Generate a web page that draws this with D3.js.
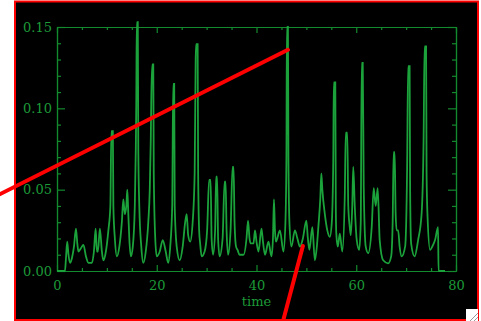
<!DOCTYPE html>
<html>
<head>
<meta charset="utf-8">
<script src="https://cdn.jsdelivr.net/npm/d3@7"></script>
<style>
  body { margin: 0; background: #fff; }
  svg { display: block; }
</style>
</head>
<body>
<svg id="chart" width="481" height="321"></svg>
<script>
// time series
const timeVals = [
  0, 1.6, 1.8, 2.05, 2.3, 2.6, 3.0, 3.4, 3.8, 4.1,
  4.3, 4.8, 5.3, 5.8, 6.3, 7.0, 7.4, 7.75, 8.0, 8.2,
  8.6, 9.0, 9.3, 9.8, 10.3, 10.7, 10.9, 11.2, 11.3, 11.6,
  12.0, 12.5, 13.0, 13.3, 13.6, 13.9, 14.1, 14.3, 14.5, 14.8,
  15.2, 15.6, 15.8, 15.9, 16.0, 16.2, 16.3, 16.5, 16.9, 17.3,
  17.8, 18.3, 18.6, 18.8, 18.9, 19.1, 19.3, 19.4, 19.7, 20.0,
  20.6, 21.2, 21.8, 22.3, 22.7, 23.1, 23.3, 23.5, 23.6, 24.0,
  24.6, 25.2, 25.7, 26.0, 26.3, 26.7, 27.2, 27.6, 27.8, 27.9,
  28.2, 28.3, 28.5, 28.7, 29.0, 29.6, 30.1, 30.5, 30.8, 31.0,
  31.3, 31.7, 31.9, 32.1, 32.3, 32.6, 33.2, 33.6, 33.8, 34.0,
  34.3, 34.8, 35.2, 35.4, 35.6, 35.9, 36.2, 36.6, 37.4, 38.0,
  38.3, 38.6, 38.8, 39.4, 39.7, 40.0, 40.4, 41.0, 41.3, 41.7,
  42.4, 43.0, 43.3, 43.5, 43.7, 43.9, 44.7, 45.4, 45.8, 46.0,
  46.1, 46.3, 46.4, 46.6, 47.0, 47.7, 48.2, 48.7, 49.3, 50.0,
  50.3, 50.6, 51.2, 51.7, 52.1, 52.4, 52.8, 53.0, 53.2, 53.7,
  54.2, 54.7, 55.1, 55.4, 55.5, 55.8, 55.9, 56.0, 56.3, 56.7,
  57.2, 57.7, 57.9, 58.2, 58.4, 58.7, 58.9, 59.2, 59.4, 59.7,
  60.1, 60.6, 60.9, 61.1, 61.3, 61.5, 61.9, 62.4, 63.1, 63.5,
  63.9, 64.3, 64.7, 65.4, 66.4, 67.0, 67.3, 67.5, 67.7, 67.9,
  68.1, 68.4, 68.7, 69.1, 69.8, 70.2, 70.4, 70.7, 70.8, 71.0,
  71.7, 72.4, 73.1, 73.5, 73.7, 74.0, 74.1, 74.3, 74.8, 75.4,
  75.8, 76.4, 76.5, 77.8];
const fluxVals = [
  0, 0, 0.008, 0.018, 0.01, 0.005, 0.008, 0.015, 0.026, 0.016,
  0.012, 0.014, 0.016, 0.009, 0.005, 0.005, 0.012, 0.026, 0.012, 0.012,
  0.026, 0.012, 0.0066, 0.012, 0.025, 0.04, 0.086, 0.086, 0.04, 0.02,
  0.009, 0.015, 0.03, 0.044, 0.035, 0.04, 0.05, 0.035, 0.02, 0.009,
  0.015, 0.04, 0.075, 0.105, 0.153, 0.153, 0.075, 0.04, 0.015, 0.005,
  0.012, 0.03, 0.05, 0.08, 0.105, 0.127, 0.127, 0.06, 0.02, 0.009,
  0.012, 0.019, 0.012, 0.005, 0.015, 0.04, 0.115, 0.115, 0.04, 0.015,
  0.0066, 0.015, 0.03, 0.035, 0.022, 0.018, 0.03, 0.06, 0.129, 0.1395,
  0.1395, 0.06, 0.025, 0.017, 0.009, 0.012, 0.025, 0.056, 0.056, 0.02,
  0.01, 0.025, 0.058, 0.058, 0.02, 0.009, 0.02, 0.055, 0.055, 0.025,
  0.01, 0.025, 0.064, 0.064, 0.03, 0.015, 0.013, 0.01, 0.01, 0.02,
  0.031, 0.02, 0.017, 0.017, 0.025, 0.018, 0.012, 0.026, 0.018, 0.01,
  0.018, 0.009, 0.02, 0.044, 0.025, 0.018, 0.025, 0.012, 0.03, 0.07,
  0.15, 0.15, 0.07, 0.03, 0.015, 0.025, 0.02, 0.015, 0.02, 0.031,
  0.02, 0.013, 0.027, 0.0066, 0.015, 0.027, 0.045, 0.06, 0.05, 0.035,
  0.025, 0.021, 0.03, 0.07, 0.116, 0.116, 0.04, 0.023, 0.015, 0.023,
  0.012, 0.046, 0.085, 0.085, 0.04, 0.027, 0.022, 0.04, 0.064, 0.04,
  0.019, 0.013, 0.03, 0.128, 0.128, 0.052, 0.015, 0.011, 0.027, 0.051,
  0.04, 0.051, 0.019, 0.0066, 0.0047, 0.009, 0.03, 0.073, 0.073, 0.035,
  0.025, 0.025, 0.015, 0.009, 0.015, 0.064, 0.126, 0.126, 0.05, 0.017,
  0.009, 0.019, 0.035, 0.08, 0.138, 0.138, 0.06, 0.033, 0.013, 0.016,
  0.019, 0.027, 0, 0];

const xMajor = [0, 20, 40, 60, 80];
const xMinor = [5, 10, 15, 25, 30, 35, 45, 50, 55, 65, 70, 75];
const yMajor = [0, 0.05, 0.10, 0.15];
const yMinor = [0.01, 0.02, 0.03, 0.04, 0.06, 0.07, 0.08, 0.09, 0.11, 0.12, 0.13, 0.14];
const yLabels = ["0.00", "0.05", "0.10", "0.15"];

// red annotation strokes, in data coordinates
const markA = [[-11.4, 0.0473], [46.3, 0.136]];
const markB = [[49.3, 0.0154], [45.3, -0.031]];

const svg = d3.select('#chart');
const plotLeft = 57, plotRight = 456, plotTop = 27, plotBottom = 271;
const green = '#1d9a38';
const axisGreen = '#138a2e';

// frame
svg.append('rect')
  .attr('x', 15).attr('y', 1.5)
  .attr('width', 463).attr('height', 318.5)
  .attr('fill', '#000')
  .attr('stroke', '#f00')
  .attr('stroke-width', 2);

const x = d3.scaleLinear().domain([0, 80]).range([plotLeft, plotRight]);
const y = d3.scaleLinear().domain([0, 0.15]).range([plotBottom, plotTop]);

function styleAxis(g) {
  g.selectAll('path, line').attr('stroke', axisGreen).attr('stroke-width', 1.2);
  g.selectAll('text')
    .attr('fill', green)
    .style('font-family', '"DejaVu Serif", serif')
    .style('font-size', '13px');
}

// bottom
svg.append('g').attr('transform', `translate(0,${plotBottom})`)
  .call(d3.axisBottom(x).tickValues(xMajor).tickSizeInner(-6).tickSizeOuter(0).tickPadding(10)
    .tickFormat(d3.format('d')))
  .call(styleAxis);
svg.append('g').attr('transform', `translate(0,${plotBottom})`)
  .call(d3.axisBottom(x).tickValues(xMinor).tickSizeInner(-3).tickSizeOuter(0).tickFormat(''))
  .call(styleAxis);
// top
svg.append('g').attr('transform', `translate(0,${plotTop})`)
  .call(d3.axisTop(x).tickValues(xMajor).tickSizeInner(-6).tickSizeOuter(0).tickFormat(''))
  .call(styleAxis);
svg.append('g').attr('transform', `translate(0,${plotTop})`)
  .call(d3.axisTop(x).tickValues(xMinor).tickSizeInner(-3).tickSizeOuter(0).tickFormat(''))
  .call(styleAxis);
// left
svg.append('g').attr('transform', `translate(${plotLeft},0)`)
  .call(d3.axisLeft(y).tickValues(yMajor).tickSizeInner(-8).tickSizeOuter(0).tickPadding(5)
    .tickFormat((d, i) => yLabels[i]))
  .call(styleAxis);
svg.append('g').attr('transform', `translate(${plotLeft},0)`)
  .call(d3.axisLeft(y).tickValues(yMinor).tickSizeInner(-4).tickSizeOuter(0).tickFormat(''))
  .call(styleAxis);
// right
svg.append('g').attr('transform', `translate(${plotRight},0)`)
  .call(d3.axisRight(y).tickValues(yMajor).tickSizeInner(-8).tickSizeOuter(0).tickFormat(''))
  .call(styleAxis);
svg.append('g').attr('transform', `translate(${plotRight},0)`)
  .call(d3.axisRight(y).tickValues(yMinor).tickSizeInner(-4).tickSizeOuter(0).tickFormat(''))
  .call(styleAxis);

// axis title
svg.append('text')
  .attr('x', (plotLeft + plotRight) / 2)
  .attr('y', 306)
  .attr('text-anchor', 'middle')
  .attr('fill', green)
  .style('font-family', '"DejaVu Serif", serif')
  .style('font-size', '13px')
  .text('time');

// series
const series = timeVals.map((t, i) => [t, fluxVals[i]]);
const seriesLine = d3.line().x(d => x(d[0])).y(d => y(d[1])).curve(d3.curveMonotoneX);
svg.append('path')
  .datum(series)
  .attr('d', seriesLine)
  .attr('fill', 'none')
  .attr('stroke', '#1ba23b')
  .attr('stroke-width', 1.8);

// red marks
const straight = d3.line().x(d => x(d[0])).y(d => y(d[1]));
[markA, markB].forEach(m => {
  svg.append('path')
    .datum(m)
    .attr('d', straight)
    .attr('stroke', '#f00')
    .attr('stroke-width', 4)
    .attr('stroke-linecap', 'round');
});

// resize grip in the corner
const grip = svg.append('g').attr('transform', 'translate(466,309)');
grip.append('rect').attr('width', 12).attr('height', 12).attr('fill', '#fff');
[4, 8].forEach(o => {
  grip.append('line')
    .attr('x1', 12 - o).attr('y1', 12).attr('x2', 12).attr('y2', 12 - o)
    .attr('stroke', '#999').attr('stroke-width', 1);
});
</script>
</body>
</html>
